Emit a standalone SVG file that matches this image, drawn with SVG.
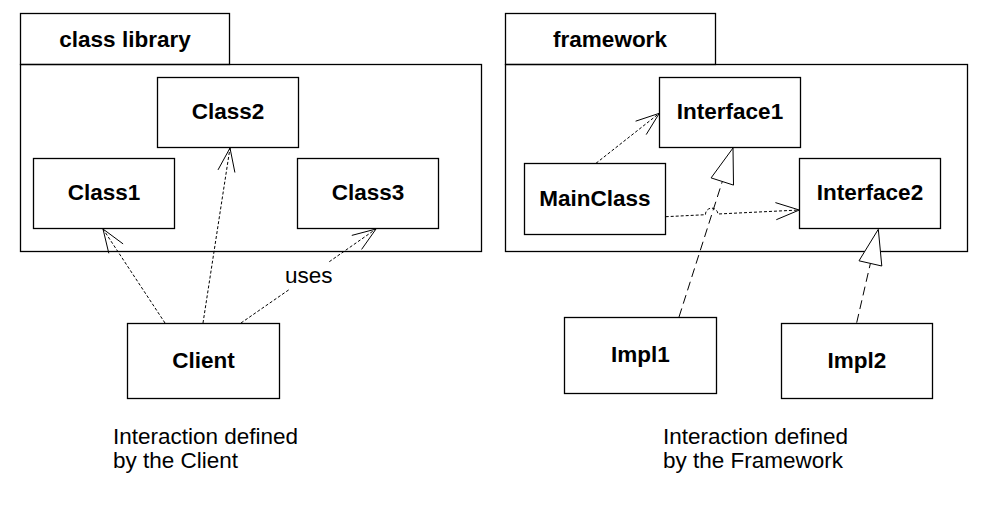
<svg xmlns="http://www.w3.org/2000/svg" width="997" height="512" viewBox="0 0 997 512">
<style>
.box{fill:#fff;stroke:#000;stroke-width:1.3}
.pkg{fill:none;stroke:#000;stroke-width:1.3}
.nm{font-family:"Liberation Sans",Arial,sans-serif;font-size:22.5px;font-weight:bold;text-anchor:middle;fill:#000}
.lbl{font-family:"Liberation Sans",Arial,sans-serif;font-size:22.5px;fill:#000}
.dep{fill:none;stroke:#000;stroke-width:1;stroke-dasharray:3,2}
.real{fill:none;stroke:#000;stroke-width:1;stroke-dasharray:9,5}
.head{fill:none;stroke:#000;stroke-width:1}
.tri{fill:#fff;stroke:#000;stroke-width:1}
</style>
<rect width="997" height="512" fill="#fff"/>
<g id="pkg-class-library">
<rect class="pkg" x="20.5" y="13.5" width="209" height="51"/>
<rect class="pkg" x="20.5" y="64.5" width="461" height="187"/>
<text class="nm" x="125" y="47">class library</text>
</g>
<g id="pkg-framework">
<rect class="pkg" x="505.5" y="13.5" width="210" height="51"/>
<rect class="pkg" x="505.5" y="64.5" width="462" height="187"/>
<text class="nm" x="610" y="47">framework</text>
</g>
<g id="class2"><rect class="box" x="157.5" y="77.5" width="141" height="70"/><text class="nm" x="228" y="119">Class2</text></g>
<g id="class1"><rect class="box" x="33.5" y="158.5" width="141" height="70"/><text class="nm" x="104" y="200">Class1</text></g>
<g id="class3"><rect class="box" x="297.5" y="158.5" width="141" height="70"/><text class="nm" x="368" y="200">Class3</text></g>
<g id="client"><rect class="box" x="127.5" y="323.5" width="152" height="75"/><text class="nm" x="203.5" y="368">Client</text></g>
<g id="interface1"><rect class="box" x="659.5" y="77.5" width="141" height="70"/><text class="nm" x="730" y="119">Interface1</text></g>
<g id="mainclass"><rect class="box" x="524.5" y="163.5" width="141" height="71"/><text class="nm" x="595" y="206">MainClass</text></g>
<g id="interface2"><rect class="box" x="799.5" y="158.5" width="141" height="70"/><text class="nm" x="870" y="200">Interface2</text></g>
<g id="impl1"><rect class="box" x="564.5" y="317.5" width="152" height="76"/><text class="nm" x="640.5" y="362">Impl1</text></g>
<g id="impl2"><rect class="box" x="781.5" y="323.5" width="151" height="75"/><text class="nm" x="857" y="368">Impl2</text></g>
<g id="connectors">
<path class="dep" d="M165,323 L103,229"/>
<path class="head" d="M108.8,253.3 L103,229 L123.1,243.9"/>
<path class="dep" d="M203,323 L230,148"/>
<path class="head" d="M218,169.9 L230,148 L234.9,172.5"/>
<path class="dep" d="M241,323 L290,289 M329.3,261.7 L376,229"/>
<path class="head" d="M351.8,235.4 L376,229 L361.6,249.4"/>
<text class="lbl" x="285" y="283">uses</text>
<path class="dep" d="M596,163.3 L659.3,113.3"/>
<path class="head" d="M635.6,121.2 L659.3,113.3 L646.2,134.6"/>
<path class="dep" d="M665.7,216.7 L705.5,214.7 A6.2,6.2 0 0 1 717.9,214 L799.3,210"/>
<path class="head" d="M775.4,202.6 L799.3,210 L776.3,219.7"/>
<path class="real" d="M679,317 L722.3,181.5"/>
<path class="tri" d="M733,148 L733.5,185.1 L711.1,177.9 Z"/>
<path class="real" d="M856.7,322.7 L870.4,263.4"/>
<path class="tri" d="M878.3,229.3 L881.8,266 L859,260.8 Z"/>
</g>
<g id="captions">
<text class="lbl" x="113" y="444">Interaction defined</text>
<text class="lbl" x="113" y="468">by the Client</text>
<text class="lbl" x="663" y="444">Interaction defined</text>
<text class="lbl" x="663" y="468">by the Framework</text>
</g>
</svg>
